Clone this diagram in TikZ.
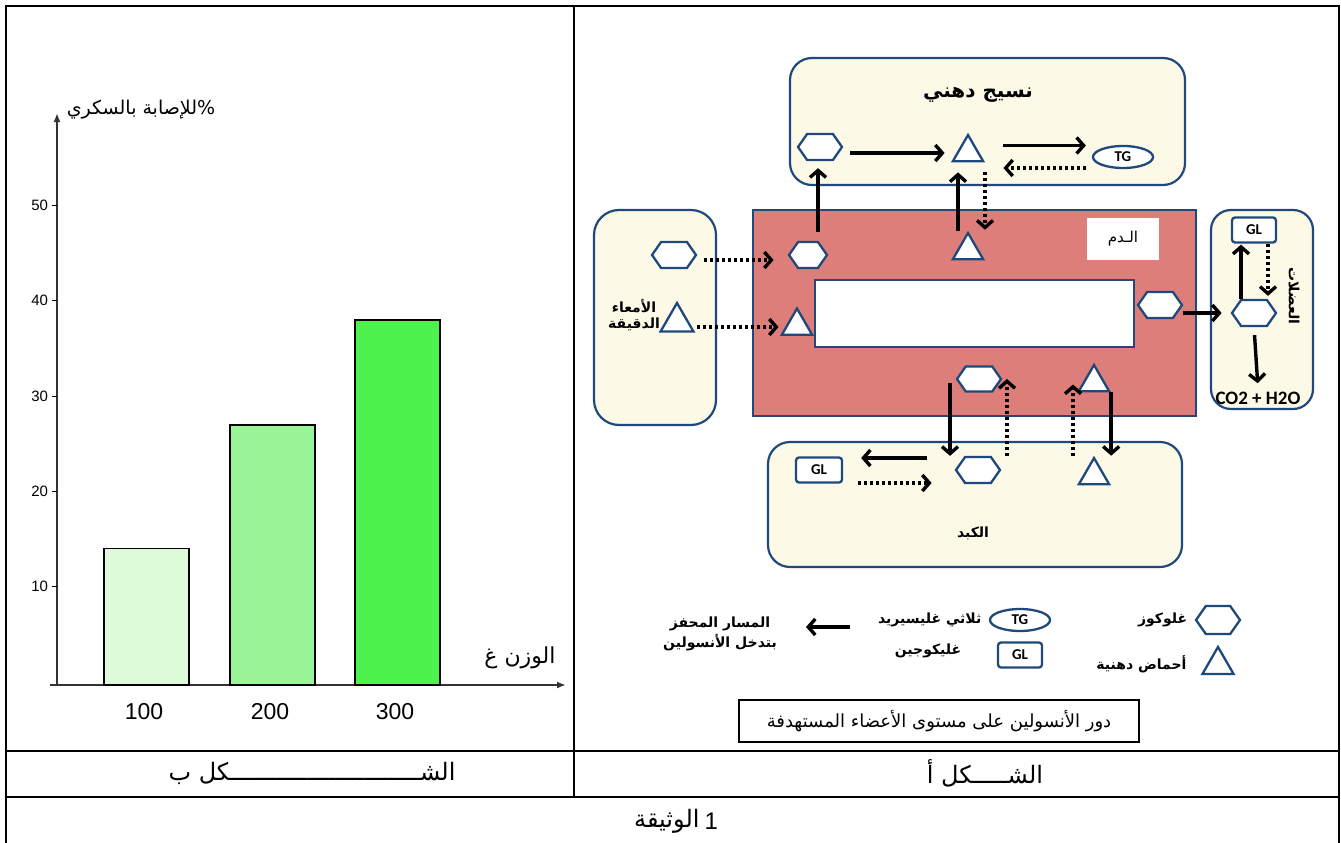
\documentclass[tikz,border=0pt]{standalone}
\usepackage{fontspec}
\setmainfont{Liberation Sans}
\newfontfamily\arabe[Script=Arabic]{DejaVu Sans}
\newfontfamily\calib{Carlito}
\TeXXeTstate=1
\newcommand{\arb}[1]{{\arabe\beginR #1\endR}}
\newcommand{\tam}[1]{\fontsize{#1}{#1}\selectfont}
\usetikzlibrary{arrows.meta,shapes.geometric,shapes.symbols,positioning}
\definecolor{azul}{RGB}{31,73,125}
\definecolor{crema}{RGB}{253,249,231}
\definecolor{sangre}{RGB}{221,126,123}
\definecolor{verdeA}{RGB}{221,251,216}
\definecolor{verdeB}{RGB}{153,245,150}
\definecolor{verdeC}{RGB}{78,242,76}
\tikzset{
  organo/.style={draw=azul, line width=2.2, fill=crema, rounded corners=22},
  glucosa/.style={signal, signal to=west and east, signal pointer angle=110,
    draw=azul, line width=2.3, fill=white, minimum width=44, minimum height=26, inner sep=0},
  acido/.style={regular polygon, regular polygon sides=3, draw=azul, line width=2.3,
    fill=white, minimum size=35, inner sep=0},
  trigli/.style={ellipse, draw=azul, line width=2.3, fill=white, minimum width=60,
    minimum height=22, inner sep=0, font=\calib\bfseries\tam{15}},
  gluco/.style={rectangle, rounded corners=3, draw=azul, line width=2.3, fill=white,
    minimum width=44, minimum height=25, inner sep=0, font=\calib\bfseries\tam{15}},
  rotulo/.style={font=\bfseries\tam{14}},
  flecha/.style={line width=3.4pt, -{Straight Barb[length=7pt,width=16pt]}},
  punteada/.style={flecha, dash pattern=on 3pt off 3pt},
}
\begin{document}
\begin{tikzpicture}[x=1pt,y=-1pt]
  \useasboundingbox (0,0) rectangle (1341,843);

  % Marco de la tabla
  \draw[line width=2.2] (6,843) -- (6,6) -- (1339,6) -- (1339,843);
  \draw[line width=2.2] (574,6) -- (574,797);
  \draw[line width=2.2] (6,751) -- (1339,751);
  \draw[line width=2.2] (6,797) -- (1339,797);

  % Figura b: ejes
  \draw[line width=1.8, black!80, -{Latex[length=9pt,width=7pt]}] (57,685) -- (57,113);
  \draw[line width=1.8, black!80, -{Latex[length=9pt,width=7pt]}] (50,685) -- (566,685);
  \node (ejeY) at (141,110) {\tam{19}\arb{\%للإصابة بالسكري}};
  \node (ejeX) at (520,658) {\tam{22}\arb{الوزن غ}};

  % Marcas en el eje y
  \foreach \v in {10,20,30,40,50} {
    \draw[line width=1.2] (57,{682-9.53*\v}) -- (52,{682-9.53*\v}) node[left=0pt] (t\v) {\tam{15}\v};
  }

  % Barras
  \foreach \x/\h/\c/\n in {104/14/verdeA/100, 230/27/verdeB/200, 355/38/verdeC/300} {
    \draw[line width=1.8, fill=\c] (\x,685) rectangle ({\x+85},{682-9.53*\h});
    \node (b\n) at ({\x+40},712) {\tam{23}\n};
  }

  % Figura a: organos
  \draw[organo] (790,58) rectangle (1185,185);
  \draw[organo, rounded corners=25] (594,210) rectangle (716,425);
  \draw[organo, rounded corners=20] (1211,210) rectangle (1313,409);
  \draw[organo] (768,442) rectangle (1182,567);
  \draw[draw=azul, line width=2.2, fill=sangre] (753,210) rectangle (1196,416);
  \draw[draw=azul, line width=1.8, fill=white] (815,280) rectangle (1134,347);

  \node[font=\bfseries\tam{20}] (tejido) at (978,95) {\arb{نسيج دهني}};
  \node[fill=white, minimum width=72, minimum height=42, font=\tam{15}] (sangre) at (1123,239) {\arb{الـدم}};
  \node[rotulo, align=center] (intestino) at (634,315) {\arb{الأمعاء}\\[2pt]\arb{الدقيقة}};
  \node[rotulo, rotate=-90] (musculo) at (1294,296) {\arb{العضلات}};
  \node[rotulo] (higado) at (973,533) {\arb{الكبد}};
  \node[font=\calib\bfseries\tam{19}] (co2) at (1258,398) {CO2 + H2O};

  % Moleculas
  \node[glucosa] (ahex) at (820,147) {};
  \node[acido] (atri) at (968,152.5) {};
  \node[trigli] (atg) at (1123,157) {TG};
  \node[glucosa, minimum width=38] (bhex1) at (808,255) {};
  \node[acido] (btri1) at (968,250.5) {};
  \node[acido] (btri2) at (797,326) {};
  \node[glucosa] (bhex2) at (1160,305) {};
  \node[glucosa, minimum height=25] (bhex3) at (979,379) {};
  \node[acido] (btri3) at (1094,382.5) {};
  \node[glucosa] (ihex) at (674,255) {};
  \node[acido, minimum size=38] (itri) at (677,322) {};
  \node[gluco] (mgl) at (1254,230) {GL};
  \node[glucosa] (mhex) at (1254,313) {};
  \node[gluco, minimum width=46] (lgl) at (819,470) {GL};
  \node[glucosa] (lhex) at (978,470) {};
  \node[acido] (ltri) at (1094,475.5) {};

  % Flechas del tejido adiposo
  \draw[flecha, shorten <=7, shorten >=12] ([yshift=-6]ahex.east) -- ([yshift=-6]ahex.east -| atri.west);
  \draw[flecha, shorten <=24, shorten >=6] ([yshift=7]atri.east) -- ([yshift=7]atri.east -| atg.west);
  \draw[punteada, shorten <=6, shorten >=24] ([yshift=-11]atg.west) -- ([yshift=-11]atg.west -| atri.east);
  \draw[flecha, shorten <=9, shorten >=7] ([xshift=10]bhex1.north) -- ([xshift=10]bhex1.north |- ahex.south);
  \draw[flecha, shorten >=10] ([xshift=-10]btri1.north) -- ([xshift=-10]btri1.north |- atri.south);
  \draw[punteada, shorten <=10, shorten >=1] ([xshift=17]atri.south) -- ([xshift=17]atri.south |- btri1.north);

  % Flechas del intestino y del musculo
  \draw[punteada, shorten <=7, shorten >=14] ([yshift=-5]ihex.east) -- ([yshift=-5]ihex.east -| bhex1.west);
  \draw[punteada, shorten <=8, shorten >=7] ([yshift=-5]itri.east) -- ([yshift=-5]itri.east -| btri2.west);
  \draw[flecha, shorten >=9] (bhex2.east |- mhex.west) -- (mhex.west);
  \draw[flecha, shorten >=1] ([xshift=-13]mhex.north) -- ([xshift=-13]mhex.north |- mgl.south);
  \draw[punteada, shorten >=3] ([xshift=14]mgl.south) -- ([xshift=14]mgl.south |- mhex.north);
  \draw[flecha, shorten <=8, shorten >=5] (mhex.south) -- (co2.north);

  % Flechas del higado
  \draw[flecha, shorten <=4] ([xshift=-29]bhex3.center) -- ([xshift=-29]bhex3.center |- lhex.north);
  \draw[punteada] ([xshift=29]lhex.north) -- ([xshift=29]lhex.north |- bhex3.center);
  \draw[punteada, shorten >=2] ([xshift=-21]ltri.north) -- ([xshift=-21]ltri.north |- btri3.center);
  \draw[flecha] (btri3.corner 3) -- (btri3.corner 3 |- ltri.north);
  \draw[flecha, shorten <=28, shorten >=18] ([yshift=12]lgl.east -| lhex.west) -- ([yshift=12]lgl.east);
  \draw[punteada, shorten <=15, shorten >=23] ([yshift=-13]lgl.east) -- ([yshift=-13]lgl.east -| lhex.west);

  % Leyenda
  \node[glucosa, minimum height=28] (ley1) at (1218,620) {};
  \node[acido, minimum size=36] (ley2) at (1218,665) {};
  \node[trigli] (ley3) at (1020,620) {TG};
  \node[gluco] (ley4) at (1020,655) {GL};
  \node[rotulo, left=4pt of ley1] (ley1t) {\arb{غلوكوز}};
  \node[rotulo, anchor=east] (ley2t) at (1190,664) {\arb{أحماض دهنية}};
  \node[rotulo, left=4pt of ley3] (ley3t) {\arb{ثلاثي غليسيريد}};
  \node[rotulo] (ley4t) at (928,651) {\arb{غليكوجين}};
  \node[rotulo, align=center] (ley5t) at (720,634) {\arb{المسار المحفز}\\[2pt]\arb{بتدخل الأنسولين}};
  \coordinate (ley5a) at (850,627);
  \draw[flecha] (ley5a) -- ++(-44,0);

  % Titulo de la figura
  \node[draw, line width=1.2, minimum width=400, minimum height=42, font=\tam{18}] (titulo) at (939,721)
    {\arb{دور الأنسولين على مستوى الأعضاء المستهدفة}};

  % Pies de tabla
  \node[font=\tam{24}] (figB) at (312,773) {\arb{الشـــــــــــــــــــــــــــكل ب}};
  \node[font=\tam{24}] (figA) at (985,773) {\arb{الشـــــكل أ}};
  \node[font=\tam{24}, anchor=east] (doc) at (703,821) {\arb{الوثيقة}};
  \node[font=\tam{24}, right=-2pt of doc] (docnum) {1};
\end{tikzpicture}
\end{document}
